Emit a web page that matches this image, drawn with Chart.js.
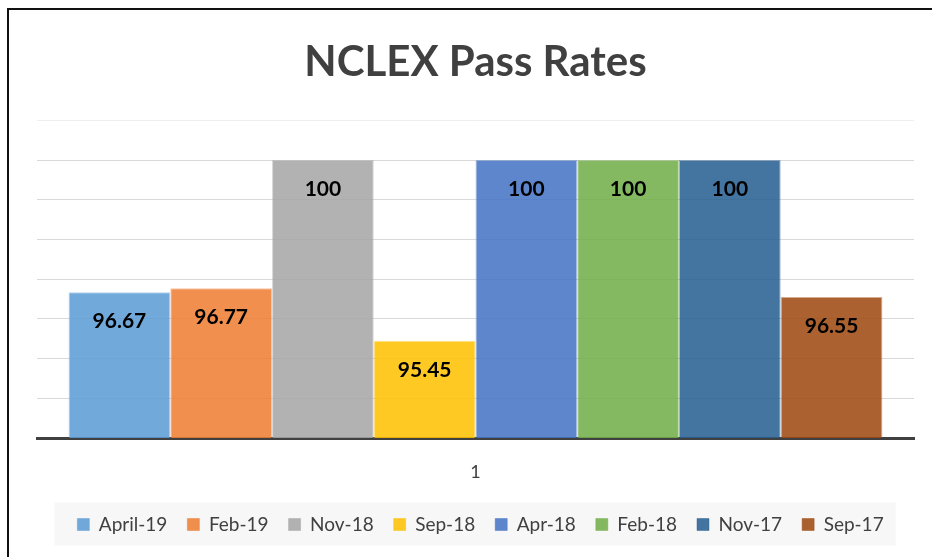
<!DOCTYPE html>
<html>
<head>
<meta charset="utf-8">
<script src="https://cdn.jsdelivr.net/npm/chart.js@4/dist/chart.umd.min.js"></script>
<style>
  html, body { margin: 0; padding: 0; background: #ffffff; }
  #wrap { position: relative; width: 932px; height: 557px; }
  #frame { position: absolute; left: 7px; top: 8px; width: 940px; height: 560px;
           border-left: 2px solid #111; border-top: 2px solid #111; box-sizing: border-box; pointer-events: none; }
  canvas { position: absolute; left: 0; top: 0; }
</style>
</head>
<body>
<div id="wrap">
  <canvas id="c" width="932" height="557"></canvas>
  <div id="frame"></div>
</div>
<script>
const categories = ["1"];
const seriesNames = ["April-19", "Feb-19", "Nov-18", "Sep-18", "Apr-18", "Feb-18", "Nov-17", "Sep-17"];
const seriesValues = [96.67, 96.77, 100, 95.45, 100, 100, 100, 96.55];
const seriesColors = ["91,155,213", "237,125,49", "165,165,165", "255,192,0", "68,114,196", "112,173,71", "37,94,145", "158,72,14"];
const yMin = 93, yMax = 101, yStep = 1;

const FONT = "Lato, 'Open Sans', sans-serif";

const datasets = seriesNames.map((name, i) => ({
  label: name,
  data: [seriesValues[i]],
  backgroundColor: "rgba(" + seriesColors[i] + ",0.86)",
  borderColor: "rgba(" + seriesColors[i] + ",0.45)",
  borderWidth: 1,
  categoryPercentage: 0.928,
  barPercentage: 1.0
}));

const labelPlugin = {
  id: "valueLabels",
  afterDatasetsDraw(chart) {
    const ctx = chart.ctx;
    ctx.save();
    ctx.font = "bold 21px " + FONT;
    ctx.fillStyle = "#000";
    ctx.textAlign = "center";
    ctx.textBaseline = "middle";
    chart.data.datasets.forEach((ds, i) => {
      const meta = chart.getDatasetMeta(i);
      meta.data.forEach((el, j) => {
        ctx.fillText(String(ds.data[j]), el.x, el.y + 29);
      });
    });
    ctx.restore();
  }
};

const legendShift = {
  id: "legendShift",
  afterLayout(chart) {
    const lg = chart.legend;
    if (!lg) return;
    lg.left += 5; lg.right += 5;
  }
};

const legendBg = {
  id: "legendBg",
  beforeDraw(chart) {
    const lg = chart.legend;
    if (!lg || !lg.legendHitBoxes || !lg.legendHitBoxes.length) return;
    const hb = lg.legendHitBoxes;
    const left = hb[0].left - 23;
    const last = hb[hb.length - 1];
    const right = last.left + last.width + 12;
    const cy = hb[0].top + hb[0].height / 2;
    const ctx = chart.ctx;
    ctx.save();
    ctx.fillStyle = "#f7f7f7";
    ctx.fillRect(left, cy - 22, right - left, 43);
    ctx.restore();
  }
};

new Chart(document.getElementById("c"), {
  type: "bar",
  data: { labels: categories, datasets: datasets },
  plugins: [labelPlugin, legendShift, legendBg],
  options: {
    responsive: false,
    animation: false,
    devicePixelRatio: 1,
    layout: { padding: { left: 37, right: 18, top: 0, bottom: 13 } },
    plugins: {
      title: {
        display: true,
        text: "NCLEX Pass Rates",
        color: "#404040",
        font: { family: FONT, size: 42, weight: "bold", lineHeight: 1.2 },
        padding: { top: 37, bottom: 33 }
      },
      legend: {
        position: "bottom",
        labels: {
          boxWidth: 12, boxHeight: 12,
          padding: 20,
          color: "#404040",
          font: { family: FONT, size: 19 }
        }
      },
      tooltip: { enabled: false }
    },
    scales: {
      x: {
        grid: { display: false, drawTicks: false },
        border: { display: true, color: "#404040", width: 3 },
        ticks: { color: "#404040", font: { family: FONT, size: 18 }, padding: 23 },
        afterFit: (scale) => { scale.height = 57; }
      },
      y: {
        min: yMin, max: yMax,
        ticks: { display: false, stepSize: yStep },
        grid: { drawTicks: false, color: (c) => c.tick && c.tick.value === yMax ? "#eeeeee" : "#d9d9d9", lineWidth: 1 },
        border: { display: false }
      }
    }
  }
});
</script>
</body>
</html>
